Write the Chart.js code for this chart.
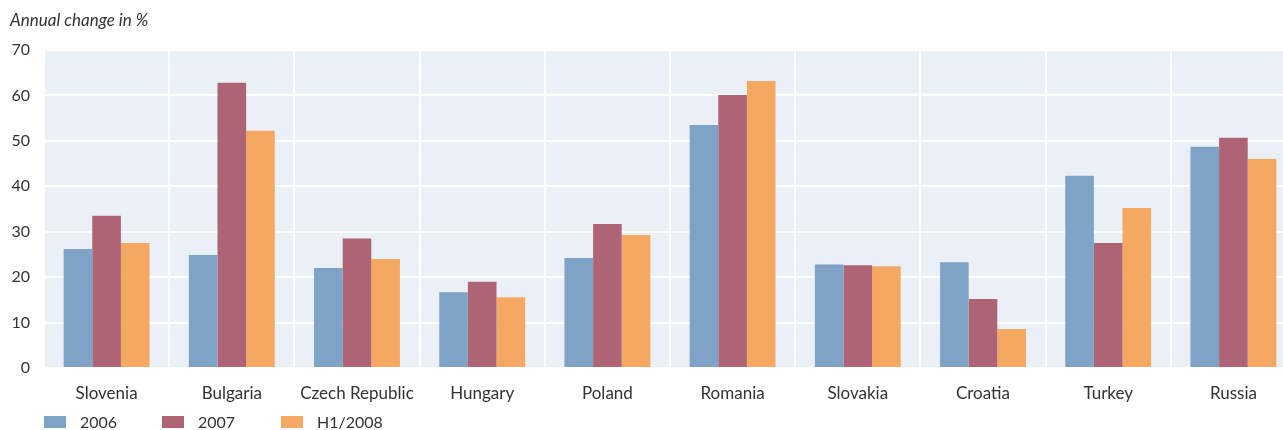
<!DOCTYPE html>
<html>
<head>
<meta charset="utf-8">
<script src="https://cdn.jsdelivr.net/npm/chart.js@4.4.1/dist/chart.umd.min.js"></script>
<style>
    html, body { margin: 0; padding: 0; background: #fff; overflow: hidden; }
    #wrap { position: relative; width: 1300px; height: 430px; }
    #chartTitle { position: absolute; left: 10px; top: 9px; font: italic 17px Lato, sans-serif; color: #333; }
    #legend { position: absolute; left: 44px; top: 412px; font: 16px Lato, sans-serif; color: #333; }
    .item { position: absolute; top: 0; white-space: nowrap; }
    .swatch { position: absolute; left: 0; top: 4px; width: 22px; height: 12px; }
    .lbl { position: absolute; left: 36px; top: 0; line-height: 20px; }
</style>
</head>
<body>
<div id="wrap">
    <canvas id="barChart" width="1300" height="430"></canvas>
    <div id="chartTitle">Annual change in %</div>
    <div id="legend"></div>
</div>
<script>
const countries = ["Slovenia", "Bulgaria", "Czech Republic", "Hungary", "Poland", "Romania", "Slovakia", "Croatia", "Turkey", "Russia"];
const seriesNames = ["2006", "2007", "H1/2008"];
const values2006 = [26.2, 24.9, 22.0, 16.7, 24.2, 53.5, 22.8, 23.3, 42.3, 48.7];
const values2007 = [33.5, 62.8, 28.5, 19.0, 31.7, 60.1, 22.6, 15.2, 27.5, 50.7];
const valuesH1 = [27.5, 52.2, 24.0, 15.6, 29.3, 63.2, 22.4, 8.6, 35.2, 46.0];
const yTicks = [0, 10, 20, 30, 40, 50, 60, 70];

const COLORS = ["#7fa3c6", "#ae6475", "#f4a862"];

const plotBg = {
    id: "plotBg",
    beforeDraw(chart) {
        const { ctx, chartArea } = chart;
        ctx.save();
        ctx.fillStyle = "#ebeff6";
        ctx.fillRect(chartArea.left, chartArea.top, chartArea.right - chartArea.left, chartArea.bottom - chartArea.top);
        ctx.restore();
    }
};

const allSeries = [values2006, values2007, valuesH1];

new Chart(document.getElementById("barChart").getContext("2d"), {
    type: "bar",
    data: {
        labels: countries,
        datasets: allSeries.map((data, i) => ({
            label: seriesNames[i],
            data: data,
            backgroundColor: COLORS[i],
            borderWidth: 0,
            barPercentage: 1,
            categoryPercentage: 0.686
        }))
    },
    options: {
        responsive: false,
        animation: false,
        layout: { padding: { top: 50, bottom: 24, right: 4 } },
        plugins: { legend: { display: false }, tooltip: { enabled: false } },
        scales: {
            x: {
                grid: { color: "#ffffff", lineWidth: 2, offset: true, drawTicks: false },
                border: { display: false },
                ticks: { color: "#333", padding: 15, font: { family: "Lato", size: 17 } },
                afterFit(scale) { scale.height = 38; }
            },
            y: {
                min: 0,
                max: 70,
                afterBuildTicks(scale) { scale.ticks = yTicks.map(v => ({ value: v })); },
                grid: { color: "#ffffff", lineWidth: 2, drawTicks: false },
                border: { display: false },
                ticks: { color: "#333", padding: 14, font: { family: "Lato", size: 16 } },
                afterFit(scale) { scale.width = 44; }
            }
        }
    },
    plugins: [plotBg]
});

const legendBox = document.getElementById("legend");
const legendX = [0, 118, 237];
seriesNames.forEach((name, i) => {
    const item = document.createElement("div");
    item.className = "item";
    item.style.left = legendX[i] + "px";
    item.innerHTML = `<span class="swatch" style="background:${COLORS[i]}"></span><span class="lbl">${name}</span>`;
    legendBox.appendChild(item);
});
</script>
</body>
</html>
